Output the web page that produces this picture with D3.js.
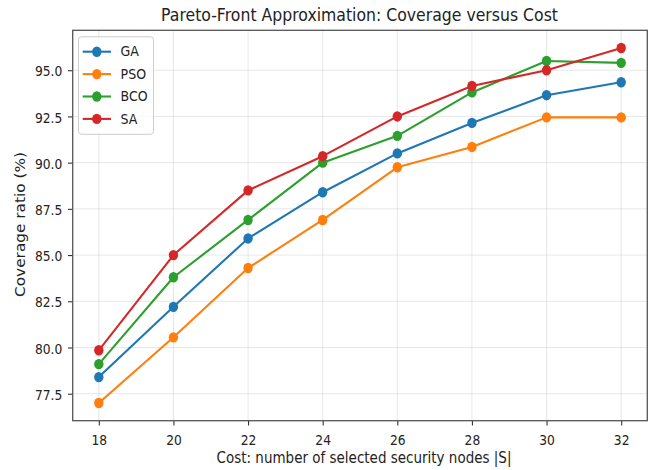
<!DOCTYPE html>
<html>
<head>
<meta charset="utf-8">
<script src="https://cdn.jsdelivr.net/npm/d3@7"></script>
<style>
  html, body { margin: 0; padding: 0; background: #fff; }
  svg { display: block; font-family: "DejaVu Sans", sans-serif; }
</style>
</head>
<body>
<svg id="chart" width="659" height="470"></svg>
<script>
const costs = [18, 20, 22, 24, 26, 28, 30, 32];
const seriesNames = ["GA", "PSO", "BCO", "SA"];
const gaValues  = [78.4, 82.2, 85.9, 88.4, 90.5, 92.15, 93.65, 94.35];
const psoValues = [77.0, 80.55, 84.3, 86.9, 89.75, 90.85, 92.45, 92.45];
const bcoValues = [79.1, 83.8, 86.9, 90.0, 91.45, 93.8, 95.5, 95.4];
const saValues  = [79.85, 85.0, 88.5, 90.35, 92.5, 94.15, 95.0, 96.2];
const seriesColors = ["#1f77b4", "#ff7f0e", "#2ca02c", "#d62728"];
const xTicks = [18, 20, 22, 24, 26, 28, 30, 32];
const yTicks = [77.5, 80.0, 82.5, 85.0, 87.5, 90.0, 92.5, 95.0];
const titleText = "Pareto-Front Approximation: Coverage versus Cost";
const xLabelText = "Cost: number of selected security nodes |S|";
const yLabelText = "Coverage ratio (%)";

const allSeries = [gaValues, psoValues, bcoValues, saValues];

const svg = d3.select("#chart");
const L = 72.7, R = 647.3, T = 30.3, B = 420.7;
const K = 1.12; // vertical stretch of the reference picture

const allVals = allSeries.flat();
const ymin = d3.min(allVals), ymax = d3.max(allVals);
const ypad = (ymax - ymin) * 0.05;
const xpad = (d3.max(costs) - d3.min(costs)) * 0.05;

const x = d3.scaleLinear().domain([d3.min(costs) - xpad, d3.max(costs) + xpad]).range([L, R]);
const y = d3.scaleLinear().domain([ymin - ypad, ymax + ypad]).range([B, T]);

// grid
const grid = svg.append("g");
grid.selectAll("line.gx").data(xTicks).join("line")
  .attr("x1", d => x(d)).attr("x2", d => x(d)).attr("y1", T).attr("y2", B)
  .attr("stroke", "#b0b0b0").attr("stroke-opacity", 0.3).attr("stroke-width", 1);
grid.selectAll("line.gy").data(yTicks).join("line")
  .attr("y1", d => y(d)).attr("y2", d => y(d)).attr("x1", L).attr("x2", R)
  .attr("stroke", "#b0b0b0").attr("stroke-opacity", 0.3).attr("stroke-width", 1);

// axes
const xAxis = svg.append("g").attr("transform", `translate(0,${B})`)
  .call(d3.axisBottom(x).tickValues(xTicks).tickSize(4.7).tickFormat(d3.format("d")));
const yAxis = svg.append("g").attr("transform", `translate(${L},0)`)
  .call(d3.axisLeft(y).tickValues(yTicks).tickSize(4.7).tickFormat(d3.format(".1f")));
[xAxis, yAxis].forEach(a => {
  a.select(".domain").remove();
  a.selectAll(".tick line").attr("stroke", "#333").attr("stroke-width", 1.1);
  a.selectAll(".tick text").attr("fill", "#222").style("font-size", "12.3px")
    .style("font-family", "'DejaVu Sans', sans-serif")
    .attr("x", 0).attr("y", 0).attr("dy", null);
});
xAxis.selectAll(".tick text").attr("text-anchor", "middle")
  .attr("transform", `translate(0,24.3) scale(1,${K})`);
yAxis.selectAll(".tick text").attr("text-anchor", "end")
  .attr("transform", `translate(-10.4,5.6) scale(1,${K})`);

// lines and markers
const line = d3.line().x((d, i) => x(costs[i])).y(d => y(d));
allSeries.forEach((vals, si) => {
  const g = svg.append("g");
  g.append("path").datum(vals).attr("d", line)
    .attr("fill", "none").attr("stroke", seriesColors[si]).attr("stroke-width", 2.1)
    .attr("stroke-linejoin", "round").attr("stroke-linecap", "square");
  g.selectAll("ellipse").data(vals).join("ellipse")
    .attr("cx", (d, i) => x(costs[i])).attr("cy", d => y(d)).attr("rx", 4.7).attr("ry", 5.2)
    .attr("fill", seriesColors[si]);
});

// frame
svg.append("rect").attr("x", L).attr("y", T).attr("width", R - L).attr("height", B - T)
  .attr("fill", "none").attr("stroke", "#555").attr("stroke-width", 1.3);

function fitText(sel, targetLen) {
  const base = 12;
  sel.style("font-size", base + "px");
  const w = sel.node().getComputedTextLength();
  sel.style("font-size", (base * targetLen / w) + "px");
}

// title & labels
const title = svg.append("text").attr("text-anchor", "middle").attr("fill", "#222")
  .attr("transform", `translate(359.5,20.5) scale(1,${K})`).text(titleText);
fitText(title, 397);
const xl = svg.append("text").attr("text-anchor", "middle").attr("fill", "#222")
  .attr("transform", `translate(364,462.7) scale(1,${K})`).text(xLabelText);
fitText(xl, 295);
const yl = svg.append("text").attr("text-anchor", "middle").attr("fill", "#222")
  .attr("transform", `translate(25.3,224.5) rotate(-90) scale(${K},1)`).text(yLabelText);
fitText(yl, 145 / K);

// legend
const lg = svg.append("g");
lg.append("rect").attr("x", 78.5).attr("y", 36.8).attr("width", 75).attr("height", 97.5)
  .attr("rx", 3).attr("fill", "#fff").attr("fill-opacity", 0.8)
  .attr("stroke", "#cccccc").attr("stroke-width", 1);
seriesNames.forEach((name, i) => {
  const yy = 51.7 + i * 22.4;
  lg.append("line").attr("x1", 82.7).attr("x2", 111).attr("y1", yy).attr("y2", yy)
    .attr("stroke", seriesColors[i]).attr("stroke-width", 2.1);
  lg.append("ellipse").attr("cx", 96.8).attr("cy", yy).attr("rx", 4.7).attr("ry", 5.2)
    .attr("fill", seriesColors[i]);
  lg.append("text").attr("transform", `translate(120.6,${yy + 4.6}) scale(1,${K})`)
    .style("font-size", "12.6px").attr("fill", "#222").text(name);
});
</script>
</body>
</html>
